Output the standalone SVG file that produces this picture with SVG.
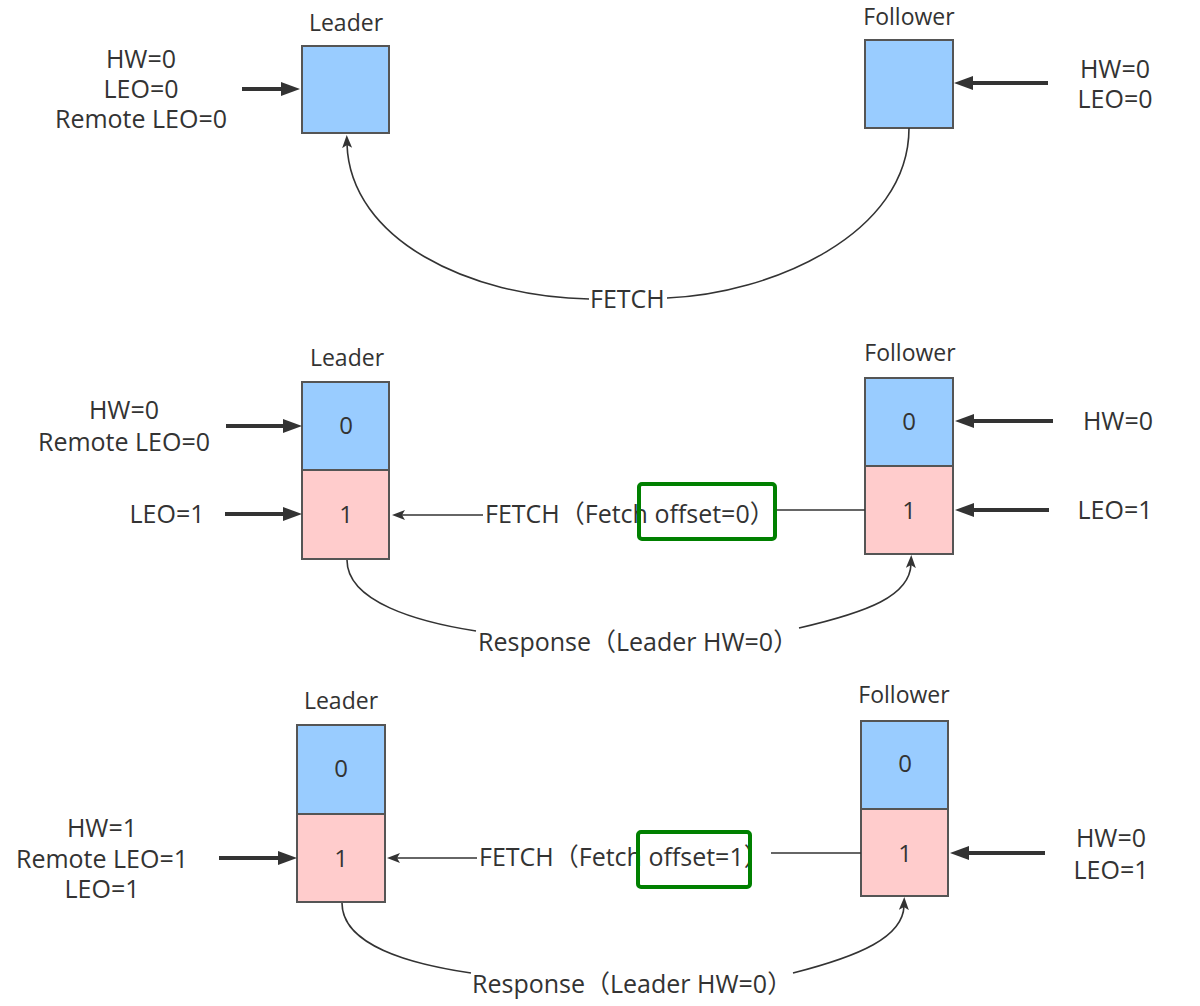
<svg xmlns="http://www.w3.org/2000/svg" width="1200" height="1006" viewBox="0 0 1200 1006">
<style>
text{font-family:'Open Sans','Noto Sans CJK SC',sans-serif;fill:#333333;}
.t{font-size:23px;text-anchor:middle;}
.l{font-size:25px;text-anchor:middle;}
.c{font-size:25px;}
.n{font-size:24px;text-anchor:middle;}
.blue{fill:#99CCFF;stroke:#555555;stroke-width:2;}
.pink{fill:#FFCCCC;stroke:#555555;stroke-width:2;}
.thick{stroke:#333333;stroke-width:4;fill:none;marker-end:url(#big);}
.thin{stroke:#333333;stroke-width:1.6;fill:none;}
.thinA{stroke:#333333;stroke-width:1.6;fill:none;marker-end:url(#sm);}
.hl{fill:none;stroke:#008000;stroke-width:4;}
</style>
<defs>
<marker id="big" markerUnits="userSpaceOnUse" markerWidth="22" markerHeight="16" refX="9" refY="8" orient="auto"><path d="M0,1 L19,8 L0,15 z" fill="#333333"/></marker>
<marker id="sm" markerUnits="userSpaceOnUse" markerWidth="14" markerHeight="12" refX="4" refY="5" orient="auto"><path d="M0,0 L13,5 L0,10 L3,5 z" fill="#333333"/></marker>
</defs>
<rect width="1200" height="1006" fill="#ffffff"/>

<!-- Section 1 -->
<g id="s1-leader">
<text class="t" x="346" y="31">Leader</text>
<rect class="blue" x="302" y="46" width="87" height="87"/>
</g>
<g id="s1-follower">
<text class="t" x="909" y="25">Follower</text>
<rect class="blue" x="865" y="40" width="88" height="88"/>
</g>
<g id="s1-leader-state">
<text class="l" x="141" y="68">HW=0<tspan x="141" dy="30">LEO=0</tspan><tspan x="141" dy="30">Remote LEO=0</tspan></text>
</g>
<g id="s1-follower-state">
<text class="l" x="1115" y="78">HW=0<tspan x="1115" dy="30">LEO=0</tspan></text>
</g>

<!-- Section 2 -->
<g id="s2-leader">
<text class="t" x="347" y="366">Leader</text>
<rect class="blue" x="302" y="382" width="87" height="88"/>
<rect class="pink" x="302" y="470" width="87" height="89"/>
<text class="n" x="346" y="434">0</text>
<text class="n" x="346" y="523">1</text>
</g>
<g id="s2-follower">
<text class="t" x="910" y="361">Follower</text>
<rect class="blue" x="865" y="378" width="88" height="88"/>
<rect class="pink" x="865" y="466" width="88" height="88"/>
<text class="n" x="909" y="430">0</text>
<text class="n" x="909" y="519">1</text>
</g>
<g id="s2-leader-state">
<text class="l" x="124" y="419">HW=0<tspan x="124" dy="32">Remote LEO=0</tspan></text>
<text class="l" x="167" y="523">LEO=1</text>
</g>
<g id="s2-follower-state">
<text class="l" x="1118" y="430">HW=0</text>
<text class="l" x="1115" y="519">LEO=1</text>
</g>

<!-- Section 3 -->
<g id="s3-leader">
<text class="t" x="341" y="709">Leader</text>
<rect class="blue" x="297" y="725" width="88" height="89"/>
<rect class="pink" x="297" y="814" width="88" height="88"/>
<text class="n" x="341" y="777">0</text>
<text class="n" x="341" y="867">1</text>
</g>
<g id="s3-follower">
<text class="t" x="904" y="703">Follower</text>
<rect class="blue" x="861" y="721" width="87" height="88"/>
<rect class="pink" x="861" y="809" width="87" height="87"/>
<text class="n" x="905" y="772">0</text>
<text class="n" x="905" y="862">1</text>
</g>
<g id="s3-leader-state">
<text class="l" x="102" y="837">HW=1<tspan x="102" dy="31">Remote LEO=1</tspan><tspan x="102" dy="30">LEO=1</tspan></text>
</g>
<g id="s3-follower-state">
<text class="l" x="1111" y="847">HW=0<tspan x="1111" dy="32">LEO=1</tspan></text>
</g>

<!-- Connectors -->
<g id="connectors">
<path class="thick" d="M242 89 L290 89"/>
<path class="thick" d="M1048 83 L964 83"/>
<path class="thick" d="M226 426 L292 426"/>
<path class="thick" d="M225 514 L292 514"/>
<path class="thick" d="M1053 421 L965 421"/>
<path class="thick" d="M1049 510 L965 510"/>
<path class="thick" d="M219 858 L287 858"/>
<path class="thick" d="M1045 853 L960 853"/>

<!-- S1 FETCH -->
<path class="thin" d="M909 128 C909 235 770 294 667 298"/>
<path class="thinA" d="M589 299 C470 297 350 240 347 144"/>
<text class="c" x="590" y="308">FETCH</text>

<!-- S2 FETCH -->
<path class="thinA" d="M483 515 L401 515"/>
<path class="thin" d="M777 510 L865 510"/>
<text class="c" x="485" y="523">FETCH（Fetch offset=0）</text>
<rect class="hl" x="639" y="484" width="136" height="55" rx="3"/>

<!-- S2 Response -->
<path class="thin" d="M347 560 C347 602 418 622 476 631"/>
<path class="thinA" d="M799 628 C868 612 910 596 911 564"/>
<text class="c" x="478" y="651">Response（Leader HW=0）</text>

<!-- S3 FETCH -->
<path class="thinA" d="M477 858 L396 858"/>
<path class="thin" d="M771 853 L861 853"/>
<text class="c" x="479" y="866">FETCH（Fetch offset=1）</text>
<rect class="hl" x="638" y="832" width="112" height="55" rx="3"/>

<!-- S3 Response -->
<path class="thin" d="M342 903 C342 945 410 964 471 973"/>
<path class="thinA" d="M793 973 C860 956 903 937 904 906"/>
<text class="c" x="472" y="993">Response（Leader HW=0）</text>
</g>
</svg>
